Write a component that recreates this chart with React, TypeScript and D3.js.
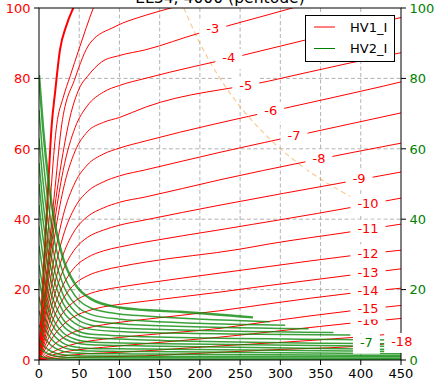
import React from "react";
import * as d3 from "d3";

type Pt = [number, number];

const TITLE = "EL34, 4000 (pentode)";
const X_TICKS = [0, 50, 100, 150, 200, 250, 300, 350, 400, 450];
const Y_TICKS = [0, 20, 40, 60, 80, 100];

// HV1_I (plate current) curves, one per grid voltage: [plate V, mA]
const HV1_G0: Pt[] = [[0,0],[5,22],[10,43],[15.8,66.8],[20,76],[26,88],[34,95],[42.6,100],[60,108]];
const HV1_G1: Pt[] = [[0,0],[10,32],[22,66.8],[30,74.5],[38.5,80.5],[50,88.5],[67.5,100],[90,112]];
const HV1_G2: Pt[] = [[0,0],[10,26],[20,49],[28.2,66.8],[44.8,80],[63.4,90],[94.5,94.7],[132,97.9],[164,100],[250,105.5]];
const HV1_G3: Pt[] = [[0,0],[10,23.5],[20,44],[30,59],[36.4,66.8],[51,77.6],[60,80.5],[78,84.7],[100,86.5],[132,88.1],[200,92.9],[234,94.9],[315,100],[450,108]];
const HV1_G4: Pt[] = [[0,0],[10,21.6],[20,40.1],[30,53.8],[45,66.1],[60,72.2],[80,76.1],[100,78.0],[132,80.0],[254,86.6],[331,90.9],[450,97.3]];
const HV1_G5: Pt[] = [[0,0],[10,19.4],[20,36.0],[30,48.3],[45,59.4],[60,64.8],[80,67.5],[100,68.9],[132,71.8],[285,79.2],[387,84.4],[450,87.3]];
const HV1_G6: Pt[] = [[0,0],[10,16.4],[20,30.4],[30,41],[45,50.5],[60,55.4],[80,58.5],[100,60.2],[132,62.2],[303,71.4],[428,77.8],[450,79]];
const HV1_G7: Pt[] = [[0,0],[10,14.1],[20,26.1],[30,35.2],[45,43.5],[60,47.8],[80,50.6],[100,52.3],[132,54.0],[225,59.0],[335,64.5],[450,70.2]];
const HV1_G8: Pt[] = [[0,0],[10,11.9],[20,22.2],[30,29.9],[45,37],[60,40.7],[80,43.2],[100,44.8],[132,46.3],[225,51.2],[331,56.3],[450,61.6]];
const HV1_G9: Pt[] = [[0,0],[10,10.1],[20,18.9],[30,25.5],[45,31.6],[60,34.8],[80,36.9],[100,38.3],[132,39.8],[225,44.0],[383,50.6],[450,53.4]];
const HV1_G10: Pt[] = [[0,0],[10,8.5],[20,15.8],[30,21.3],[45,26.5],[60,29.1],[80,31],[100,32.1],[132,33.5],[225,37.0],[387,43.3],[450,46.0]];
const HV1_G11: Pt[] = [[0,0],[10,6.9],[20,12.9],[30,17.4],[45,21.7],[60,23.9],[80,25.5],[100,26.5],[132,27.8],[250,31.5],[287,33.0],[387,36.4],[450,38.6]];
const HV1_G12: Pt[] = [[0,0],[10,5.3],[20,10],[30,13.5],[45,16.8],[60,18.6],[80,19.9],[100,20.7],[132,21.8],[225,24.7],[287,26.6],[387,29.6],[450,31.2]];
const HV1_G13: Pt[] = [[0,0],[10,3.9],[20,7.4],[30,10],[45,12.5],[60,13.9],[80,15.1],[100,15.8],[132,16.7],[225,19.3],[287,21.2],[387,24.1],[450,25.9]];
const HV1_G14: Pt[] = [[0,0],[10,2.4],[20,4.6],[30,6.3],[45,8.1],[60,9.1],[80,10.0],[100,10.7],[126,11.4],[225,14.0],[287,16.0],[389,19.0],[450,20.4]];
const HV1_G15: Pt[] = [[0,0],[10,1.4],[20,2.6],[30,3.6],[45,4.6],[60,5.3],[80,5.9],[100,6.4],[132,7.1],[225,9.0],[287,11.0],[389,14.0],[450,15.5]];
const HV1_G16: Pt[] = [[0,0],[10,0.9],[20,1.6],[30,2.2],[45,2.8],[60,3.2],[80,3.6],[100,4.0],[150,5.0],[225,6.5],[308,8.5],[389,10.5],[450,11.8]];
const HV1_G17: Pt[] = [[0,0],[10,0.5],[20,0.9],[30,1.2],[45,1.5],[60,1.8],[80,2.0],[100,2.2],[225,4.0],[300,5.0],[389,6.4],[450,7.6]];
const HV1_G18: Pt[] = [[0,0],[10,0.25],[20,0.45],[30,0.6],[45,0.75],[60,0.85],[80,0.95],[100,1.0],[225,2.2],[300,3.0],[389,3.8],[450,5.0]];

const HV1_GRID = [0, -1, -2, -3, -4, -5, -6, -7, -8, -9, -10, -11, -12, -13, -14, -15, -16, -17, -18];
const HV1_CURVES = [HV1_G0, HV1_G1, HV1_G2, HV1_G3, HV1_G4, HV1_G5, HV1_G6, HV1_G7, HV1_G8, HV1_G9,
  HV1_G10, HV1_G11, HV1_G12, HV1_G13, HV1_G14, HV1_G15, HV1_G16, HV1_G17, HV1_G18];
// label positions along x (plate volts) per grid voltage
const HV1_LABEL_GRID = [-3, -4, -5, -6, -7, -8, -9, -10, -11, -12, -13, -14, -15, -16, -18];
const HV1_LABEL_X = [216, 236, 257, 288, 317, 348, 398, 409, 409, 409, 409, 409, 409, 409, 451];

// HV2_I (screen current) curves
const HV2_G0: Pt[] = [[0,81],[5,66],[12,50.5],[20,38.3],[30,28.8],[45,21.5],[65,17.3],[100,14.9],[132,14.2],[175,13.7],[266,12.1]];
const HV2_G1: Pt[] = [[0,71],[5,57.4],[12,43.6],[20,33],[30,24.7],[45,18.2],[65,14.7],[100,13.1],[132,12.5],[287,10.9]];
const HV2_G2: Pt[] = [[0,63],[5,50.7],[12,38.2],[20,28.7],[30,21.4],[45,15.8],[65,12.9],[100,11.6],[132,11.1],[306,9.9]];
const HV2_G3: Pt[] = [[0,56],[5,44.7],[12,33.4],[20,24.9],[30,18.5],[45,13.7],[65,11.3],[100,10.3],[132,9.9],[335,8.9]];
const HV2_G4: Pt[] = [[0,50],[5,39.6],[12,29.3],[20,21.7],[30,16.1],[45,12.0],[65,9.9],[100,9.1],[132,8.8],[366,7.8]];
const HV2_G5: Pt[] = [[0,44],[5,34.6],[12,25.4],[20,18.7],[30,13.8],[45,10.4],[65,8.7],[100,8.1],[132,7.8],[387,7.1]];
const HV2_G6: Pt[] = [[0,38],[5,29.6],[12,21.5],[20,15.7],[30,11.5],[45,8.6],[65,7.3],[100,6.9],[132,6.6],[450,5.7]];
const HV2_G7: Pt[] = [[0,32.5],[5,25.1],[12,18.1],[20,13.1],[30,9.65],[45,7.3],[65,6.3],[100,5.95],[132,5.7],[450,4.6]];
const HV2_G8: Pt[] = [[0,27],[5,20.6],[12,14.6],[20,10.55],[30,7.75],[45,5.9],[65,5.1],[100,4.85],[132,4.7],[450,3.8]];
const HV2_G9: Pt[] = [[0,23],[5,17.4],[12,12.2],[20,8.7],[30,6.35],[45,4.9],[65,4.3],[100,4.1],[132,4.0],[450,3.0]];
const HV2_G10: Pt[] = [[0,18],[5,13.4],[12,9.3],[20,6.6],[30,4.8],[45,3.7],[65,3.3],[100,3.2],[132,3.1],[450,2.4]];
const HV2_G11: Pt[] = [[0,14],[5,10.3],[12,7.0],[20,4.9],[30,3.6],[45,2.85],[65,2.55],[100,2.45],[132,2.4],[450,1.8]];
const HV2_G12: Pt[] = [[0,10],[5,7.25],[12,4.85],[20,3.35],[30,2.45],[45,1.96],[65,1.8],[100,1.75],[132,1.7],[450,1.3]];
const HV2_G13: Pt[] = [[0,6],[5,4.3],[12,2.85],[20,2.0],[30,1.48],[45,1.2],[65,1.12],[132,1.1],[450,0.9]];
const HV2_G14: Pt[] = [[0,3.7],[5,2.6],[12,1.7],[20,1.15],[30,0.85],[45,0.7],[132,0.65],[450,0.5]];
const HV2_G15: Pt[] = [[0,1.2],[5,0.82],[12,0.52],[20,0.35],[30,0.26],[45,0.21],[132,0.2],[450,0.1]];

const HV2_CURVES = [HV2_G0, HV2_G1, HV2_G2, HV2_G3, HV2_G4, HV2_G5, HV2_G6, HV2_G7, HV2_G8, HV2_G9,
  HV2_G10, HV2_G11, HV2_G12, HV2_G13, HV2_G14, HV2_G15];
const HV2_LABEL_INDEX = [7];
const HV2_LABEL_X = [407];

// max dissipation hyperbola
const PDISS_X = [180, 200, 225, 250, 275, 300, 325, 350, 375, 400, 430];
const PDISS_Y = [100, 90, 80, 72, 65.5, 60, 55.4, 51.4, 48, 45, 41.9];

const RED = "#ff0000";
const GREEN = "#008000";
const FONT = "DejaVu Sans, sans-serif";
const FS = 13;

function interp(pts: Pt[], xv: number): number {
  if (xv <= pts[0][0]) return pts[0][1];
  for (let i = 1; i < pts.length; i++) {
    if (xv <= pts[i][0]) {
      const [x0, y0] = pts[i - 1];
      const [x1, y1] = pts[i];
      return y0 + ((xv - x0) / (x1 - x0)) * (y1 - y0);
    }
  }
  return pts[pts.length - 1][1];
}

function textW(s: string): number {
  let w = 0;
  for (const c of s) w += c === "-" ? 0.361 : 0.636;
  return w * FS;
}

export default function App() {
  const L = 39, R = 401, T = 8, B = 360;
  const x = d3.scaleLinear().domain([0, 450]).range([L, R]);
  const y = d3.scaleLinear().domain([0, 100]).range([B, T]);
  const line = d3.line<Pt>().x((d) => x(d[0])).y((d) => y(d[1])).curve(d3.curveMonotoneX);
  const pdiss: Pt[] = PDISS_X.map((v, i) => [v, PDISS_Y[i]]);

  const labels: { text: string; px: number; py: number; color: string }[] = [];
  for (let i = HV1_LABEL_GRID.length - 1; i >= 0; i--) {
    const g = HV1_LABEL_GRID[i];
    const curve = HV1_CURVES[HV1_GRID.indexOf(g)];
    const xv = HV1_LABEL_X[i];
    labels.push({ text: String(g), px: x(xv), py: y(interp(curve, xv)), color: RED });
  }
  HV2_LABEL_INDEX.forEach((idx, i) => {
    const xv = HV2_LABEL_X[i];
    labels.push({ text: String(-idx), px: x(xv), py: y(interp(HV2_CURVES[idx], xv)), color: GREEN });
  });

  return (
    <svg width={440} height={383} style={{ position: "absolute", left: 0, top: 0, display: "block" }}
      fontFamily={FONT} fontSize={FS}>
      <rect x={0} y={0} width={440} height={383} fill="#fff" />
      <defs>
        <clipPath id="plot"><rect x={L} y={T} width={R - L} height={B - T} /></clipPath>
      </defs>
      <text x={(L + R) / 2} y={2.5} textAnchor="middle" fontSize={15.6}>{TITLE}</text>
      <g stroke="#a0a0a0" strokeWidth={0.8} strokeDasharray="4,2.5">
        {X_TICKS.slice(1, -1).map((t) => (
          <line key={"gx" + t} x1={x(t)} x2={x(t)} y1={T} y2={B} />
        ))}
        {Y_TICKS.slice(1, -1).map((t) => (
          <line key={"gy" + t} x1={L} x2={R} y1={y(t)} y2={y(t)} />
        ))}
      </g>
      <g clipPath="url(#plot)" fill="none">
        <path d={line(pdiss) || ""} stroke="#f2a53c" strokeOpacity={0.6} strokeWidth={1.1} strokeDasharray="5,3.5" />
        {HV1_CURVES.map((c, i) => (
          <path key={"r" + i} d={line(c) || ""} stroke={RED} strokeWidth={i === 0 ? 2 : 1} />
        ))}
        {HV2_CURVES.map((c, i) => (
          <path key={"g" + i} d={line(c) || ""} stroke="#0a8a0a" strokeOpacity={0.8} strokeWidth={i === 0 ? 2.4 : 1.5} />
        ))}
      </g>
      <rect x={L} y={T} width={R - L} height={B - T} fill="none" stroke="#000" strokeWidth={1} />
      <g stroke="#000" strokeWidth={1}>
        {X_TICKS.map((t) => (
          <line key={"tx" + t} x1={x(t)} x2={x(t)} y1={B} y2={B + 5} />
        ))}
        {Y_TICKS.map((t) => (
          <line key={"tl" + t} x1={L - 5} x2={L} y1={y(t)} y2={y(t)} />
        ))}
        {Y_TICKS.map((t) => (
          <line key={"tr" + t} x1={R} x2={R + 5} y1={y(t)} y2={y(t)} />
        ))}
      </g>
      {X_TICKS.map((t) => (
        <text key={"lx" + t} x={x(t)} y={B + 18.3} textAnchor="middle" fill="#000">{t}</text>
      ))}
      {Y_TICKS.map((t) => (
        <text key={"ll" + t} x={L - 8.5} y={y(t) + 4.7} textAnchor="end" fill={RED}>{t}</text>
      ))}
      {Y_TICKS.map((t) => (
        <text key={"lr" + t} x={R + 8.5} y={y(t) + 4.7} textAnchor="start" fill={GREEN}>{t}</text>
      ))}
      {labels.map((lb, i) => {
        const w = textW(lb.text);
        return (
          <g key={"lab" + i}>
            <rect x={lb.px - w / 2 - 7} y={lb.py - 9.5} width={w + 14} height={20} fill="#fff" />
            <text x={lb.px} y={lb.py + 3.7} textAnchor="middle" fill={lb.color}>{lb.text}</text>
          </g>
        );
      })}
      <g>
        <rect x={305.5} y={15.5} width={89} height={46} fill="#fff" stroke="#000" strokeWidth={1} />
        <line x1={314} x2={335} y1={27} y2={27} stroke={RED} strokeWidth={1} />
        <text x={350} y={31.7} fill="#000">HV1_I</text>
        <line x1={314} x2={335} y1={48.5} y2={48.5} stroke={GREEN} strokeWidth={1} />
        <text x={350} y={53.2} fill="#000">HV2_I</text>
      </g>
    </svg>
  );
}
